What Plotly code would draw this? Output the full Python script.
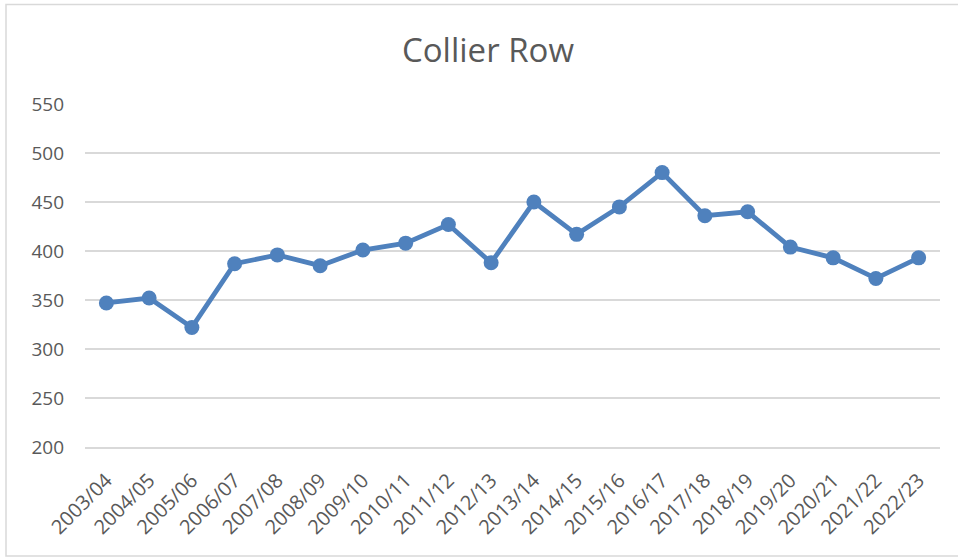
import plotly.graph_objects as go

years = ["2003/04", "2004/05", "2005/06", "2006/07", "2007/08", "2008/09", "2009/10",
         "2010/11", "2011/12", "2012/13", "2013/14", "2014/15", "2015/16", "2016/17",
         "2017/18", "2018/19", "2019/20", "2020/21", "2021/22", "2022/23"]
values = [347, 352, 322, 387, 396, 385, 401, 408, 427, 388, 450, 417, 445, 480,
          436, 440, 404, 393, 372, 393]
y_ticks = [200, 250, 300, 350, 400, 450, 500, 550]

W, H = 958, 557
L, R, T, B = 85, 18, 104, 110
pw, ph = W - L - R, H - T - B

def px(x):
    return (x - L) / pw

def py(y):
    return (H - B - y) / ph

fig = go.Figure()
fig.add_trace(go.Scatter(
    x=years, y=values, mode="lines+markers",
    line=dict(color="#4f81bd", width=4.8),
    marker=dict(color="#4f81bd", size=15),
    hoverinfo="x+y",
))

fig.update_layout(
    width=W, height=H,
    margin=dict(l=L, r=R, t=T, b=B),
    paper_bgcolor="white", plot_bgcolor="white",
    font=dict(family="Open Sans", color="#595959", size=19),
    title=dict(text="Collier Row", x=px(488), xref="paper", xanchor="center",
               y=1 - 50 / H, yref="container", yanchor="middle",
               font=dict(family="Open Sans", size=33, color="#595959")),
    showlegend=False,
    xaxis=dict(type="category", range=[-0.5, len(years) - 0.5], tickangle=-45,
               showgrid=False, showline=True, linecolor="#d9d9d9", linewidth=1.5,
               ticks="", tickfont=dict(size=20, color="#595959"),
               ticklabelstandoff=12, zeroline=False),
    yaxis=dict(range=[200, 550], tickvals=y_ticks, showgrid=True,
               gridcolor="#d9d9d9", gridwidth=1.5, zeroline=False, showline=False,
               ticks="", ticklabelstandoff=20, tickfont=dict(size=19, color="#595959")),
    shapes=[dict(type="rect", xref="paper", yref="paper",
                 x0=px(6), x1=px(962), y0=py(556), y1=py(4.5),
                 line=dict(color="#d9d9d9", width=1.5), fillcolor="rgba(0,0,0,0)",
                 layer="below")],
)

fig.write_html("out.html", config={"displayModeBar": False},
               post_script="document.body.style.margin='0';document.body.style.overflow='hidden';")
